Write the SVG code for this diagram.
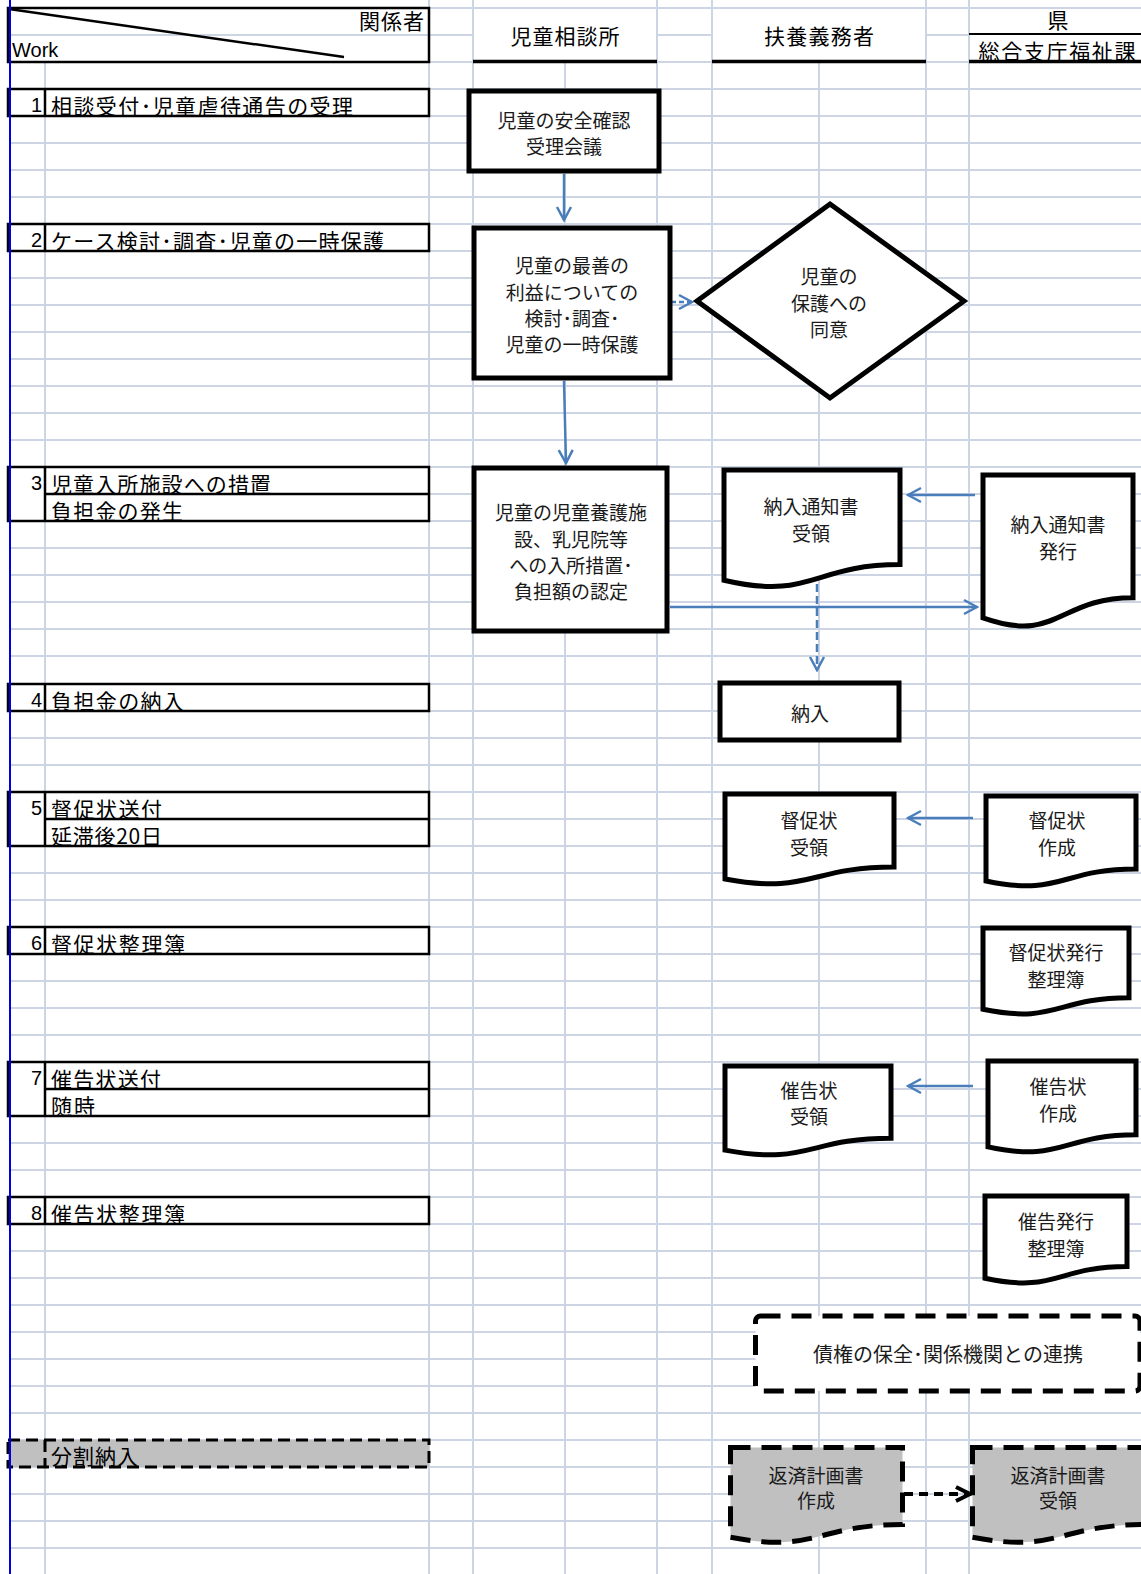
<svg xmlns="http://www.w3.org/2000/svg" width="1141" height="1574" viewBox="0 0 1141 1574">
<defs>
<style>
.grid{stroke:#cdd5e4;stroke-width:2;fill:none}
.lbl{fill:#fff;stroke:#000;stroke-width:2.5}
.ln{stroke:#000;stroke-width:2.5;fill:none}
.num{font-family:"Liberation Sans",Arial,sans-serif;font-size:20px;text-anchor:end;fill:#000}
.rt{font-family:"Noto Sans CJK JP","Noto Sans CJK SC",sans-serif;font-size:21px;dominant-baseline:central;fill:#000}
.hd{font-family:"Noto Sans CJK JP","Noto Sans CJK SC",sans-serif;font-size:21px;text-anchor:middle;dominant-baseline:central;fill:#000}
.node{fill:#fff;stroke:#000;stroke-width:5;stroke-linejoin:miter}
.nt{font-family:"Noto Sans CJK JP","Noto Sans CJK SC",sans-serif;font-size:19px;text-anchor:middle;dominant-baseline:central;fill:#1a1a1a}
.dsh{stroke:#000;stroke-width:5;stroke-dasharray:20 11}
.arr{stroke:#4a7ebb;stroke-width:2.5;fill:none;marker-end:url(#ah)}
</style>
<marker id="ah" markerUnits="userSpaceOnUse" markerWidth="16" markerHeight="18" viewBox="0 0 16 18" refX="14" refY="9" orient="auto"><path d="M1,2 L14,9 L1,16" fill="none" stroke="#4a7ebb" stroke-width="2.5"/></marker>
<marker id="ahk" markerUnits="userSpaceOnUse" markerWidth="20" markerHeight="20" viewBox="0 0 20 20" refX="17" refY="10" orient="auto"><path d="M2,3 L16,10 L2,17" fill="none" stroke="#000" stroke-width="4"/></marker>
</defs>
<rect x="0" y="0" width="1141" height="1574" fill="#fff"/>

<g id="grid">
<path class="grid" d="M9 8H1141 M9 35H473 M657 35H712 M926 35H969 M9 62H1141 M9 89H1141 M9 116H1141 M9 143H1141 M9 170H1141 M9 197H1141 M9 224H1141 M9 251H1141 M9 278H1141 M9 305H1141 M9 332H1141 M9 359H1141 M9 386H1141 M9 413H1141 M9 440H1141 M9 467H1141 M9 494H1141 M9 521H1141 M9 548H1141 M9 575H1141 M9 602H1141 M9 629H1141 M9 656H1141 M9 684H1141 M9 711H1141 M9 738H1141 M9 765H1141 M9 792H1141 M9 819H1141 M9 846H1141 M9 873H1141 M9 900H1141 M9 927H1141 M9 954H1141 M9 981H1141 M9 1008H1141 M9 1035H1141 M9 1062H1141 M9 1089H1141 M9 1116H1141 M9 1143H1141 M9 1170H1141 M9 1197H1141 M9 1224H1141 M9 1251H1141 M9 1278H1141 M9 1305H1141 M9 1332H1141 M9 1359H1141 M9 1386H1141 M9 1413H1141 M9 1440H1141 M9 1467H1141 M9 1494H1141 M9 1521H1141 M9 1548H1141"/>
<path class="grid" d="M45 62V1574 M429 0V1574 M473 0V1574 M565 62V1574 M657 0V1574 M712 0V1574 M819 62V1574 M926 0V1574 M969 0V1574"/>
</g>

<g id="header">
<rect x="8" y="8" width="421" height="54" fill="none" stroke="#000" stroke-width="2.5"/>
<line x1="9" y1="9" x2="344" y2="57" stroke="#000" stroke-width="2.5"/>
<text x="424" y="20" class="hd" style="text-anchor:end" textLength="65" lengthAdjust="spacing">関係者</text>
<text x="12" y="57" style="font-family:'Liberation Sans',Arial,sans-serif;font-size:20px">Work</text>
<text x="565" y="35" class="hd" textLength="109" lengthAdjust="spacing">児童相談所</text>
<line x1="473" y1="61.5" x2="657" y2="61.5" stroke="#000" stroke-width="3.5"/>
<text x="819" y="35" class="hd" textLength="110" lengthAdjust="spacing">扶養義務者</text>
<line x1="712" y1="61.5" x2="926" y2="61.5" stroke="#000" stroke-width="3.5"/>
<text x="1058" y="19" class="hd">県</text>
<line x1="969" y1="34" x2="1141" y2="34" stroke="#000" stroke-width="2"/>
<text x="1057" y="50" class="hd" textLength="157" lengthAdjust="spacing">総合支庁福祉課</text>
<line x1="969" y1="61.5" x2="1141" y2="61.5" stroke="#000" stroke-width="3.5"/>
</g>

<g id="work-rows">
<g id="row1"><rect class="lbl" x="8" y="89" width="421" height="27"/><line class="ln" x1="45" y1="89" x2="45" y2="116"/><text class="num" x="42" y="112">1</text><text class="rt" x="51" y="105" textLength="302" lengthAdjust="spacing">相談受付･児童虐待通告の受理</text></g>
<g id="row2"><rect class="lbl" x="8" y="224" width="421" height="27"/><line class="ln" x1="45" y1="224" x2="45" y2="251"/><text class="num" x="42" y="247">2</text><text class="rt" x="51" y="240" textLength="333" lengthAdjust="spacing">ケース検討･調査･児童の一時保護</text></g>
<g id="row3"><rect class="lbl" x="8" y="467" width="421" height="54"/><line class="ln" x1="45" y1="467" x2="45" y2="521"/><line class="ln" x1="45" y1="494" x2="429" y2="494"/><text class="num" x="42" y="490">3</text><text class="rt" x="51" y="483" textLength="220" lengthAdjust="spacing">児童入所施設への措置</text><text class="rt" x="51" y="510" textLength="132" lengthAdjust="spacing">負担金の発生</text></g>
<g id="row4"><rect class="lbl" x="8" y="684" width="421" height="27"/><line class="ln" x1="45" y1="684" x2="45" y2="711"/><text class="num" x="42" y="707">4</text><text class="rt" x="51" y="700" textLength="133" lengthAdjust="spacing">負担金の納入</text></g>
<g id="row5"><rect class="lbl" x="8" y="792" width="421" height="54"/><line class="ln" x1="45" y1="792" x2="45" y2="846"/><line class="ln" x1="45" y1="819" x2="429" y2="819"/><text class="num" x="42" y="815">5</text><text class="rt" x="51" y="808" textLength="111" lengthAdjust="spacing">督促状送付</text><text class="rt" x="51" y="835" textLength="111" lengthAdjust="spacing">延滞後20日</text></g>
<g id="row6"><rect class="lbl" x="8" y="927" width="421" height="27"/><line class="ln" x1="45" y1="927" x2="45" y2="954"/><text class="num" x="42" y="950">6</text><text class="rt" x="51" y="943" textLength="134" lengthAdjust="spacing">督促状整理簿</text></g>
<g id="row7"><rect class="lbl" x="8" y="1062" width="421" height="54"/><line class="ln" x1="45" y1="1062" x2="45" y2="1116"/><line class="ln" x1="45" y1="1089" x2="429" y2="1089"/><text class="num" x="42" y="1085">7</text><text class="rt" x="51" y="1078" textLength="110" lengthAdjust="spacing">催告状送付</text><text class="rt" x="51" y="1105" textLength="44" lengthAdjust="spacing">随時</text></g>
<g id="row8"><rect class="lbl" x="8" y="1197" width="421" height="27"/><line class="ln" x1="45" y1="1197" x2="45" y2="1224"/><text class="num" x="42" y="1220">8</text><text class="rt" x="51" y="1213" textLength="134" lengthAdjust="spacing">催告状整理簿</text></g>
<g id="row-bunkatsu"><rect x="8" y="1440" width="421" height="27" fill="#c0c0c0" stroke="#000" stroke-width="3" stroke-dasharray="12 6"/><line x1="45" y1="1440" x2="45" y2="1467" stroke="#000" stroke-width="3" stroke-dasharray="12 6"/><text class="rt" x="51" y="1455" textLength="87" lengthAdjust="spacing">分割納入</text></g>
</g>

<line x1="10" y1="0" x2="10" y2="1574" stroke="#0000e0" stroke-width="2"/>

<g id="connectors">
<line class="arr" x1="564" y1="174" x2="564" y2="220"/>
<line class="arr" x1="564" y1="381" x2="566" y2="463"/>
<line class="arr" x1="671" y1="302" x2="692" y2="302" stroke-dasharray="5 3"/>
<line class="arr" x1="975" y1="495" x2="908" y2="495"/>
<line class="arr" x1="670" y1="607" x2="977" y2="607"/>
<line class="arr" x1="817" y1="584" x2="817" y2="670" stroke-dasharray="8 4"/>
<line class="arr" x1="973" y1="818" x2="908" y2="818"/>
<line class="arr" x1="973" y1="1086" x2="908" y2="1086"/>
<line x1="904" y1="1494" x2="971" y2="1494" stroke="#000" stroke-width="4" stroke-dasharray="9 6" marker-end="url(#ahk)"/>
</g>

<g id="n-anzen"><rect class="node" x="469" y="91" width="190" height="80"/><text class="nt" x="564" y="119">児童の安全確認</text><text class="nt" x="564" y="145">受理会議</text></g>
<g id="n-kento"><rect class="node" x="474" y="228" width="196" height="150"/><text class="nt" x="572" y="264">児童の最善の</text><text class="nt" x="572" y="291">利益についての</text><text class="nt" x="572" y="317">検討･調査･</text><text class="nt" x="572" y="343">児童の一時保護</text></g>
<g id="n-doi"><polygon class="node" points="830,204 964,301 830,398 697,301"/><text class="nt" x="829" y="275">児童の</text><text class="nt" x="829" y="302">保護への</text><text class="nt" x="829" y="328">同意</text></g>
<g id="n-sochi"><rect class="node" x="474" y="468" width="193" height="163"/><text class="nt" x="571" y="511">児童の児童養護施</text><text class="nt" x="571" y="538">設、乳児院等</text><text class="nt" x="571" y="564">への入所措置･</text><text class="nt" x="571" y="590">負担額の認定</text></g>
<g id="n-tsuchi-juryo"><path class="node" d="M724,470 H900 V564.6 C812,564.6 812,600.7 724,580.2 Z"/><text class="nt" x="811" y="505">納入通知書</text><text class="nt" x="811" y="532">受領</text></g>
<g id="n-tsuchi-hakko"><path class="node" d="M983,475 H1133 V597.7 C1058,597.7 1058,644.4 983,617.9 Z"/><text class="nt" x="1058" y="523">納入通知書</text><text class="nt" x="1058" y="550">発行</text></g>
<g id="n-nonyu"><rect class="node" x="720" y="683" width="179" height="57"/><text class="nt" x="810" y="712">納入</text></g>
<g id="n-tokusoku-juryo"><path class="node" d="M725,794 H894 V867 C809.5,867 809.5,894.8 725,879 Z"/><text class="nt" x="809" y="819">督促状</text><text class="nt" x="809" y="846">受領</text></g>
<g id="n-tokusoku-sakusei"><path class="node" d="M986,796 H1136 V869 C1061,869 1061,896.8 986,881 Z"/><text class="nt" x="1057" y="819">督促状</text><text class="nt" x="1057" y="846">作成</text></g>
<g id="n-tokusoku-bo"><path class="node" d="M983,928 H1129 V997.8 C1056,997.8 1056,1024.4 983,1009.3 Z"/><text class="nt" x="1056" y="951">督促状発行</text><text class="nt" x="1056" y="978">整理簿</text></g>
<g id="n-saikoku-juryo"><path class="node" d="M725,1066 H891 V1138.2 C808,1138.2 808,1165.7 725,1150.1 Z"/><text class="nt" x="809" y="1089">催告状</text><text class="nt" x="809" y="1115">受領</text></g>
<g id="n-saikoku-sakusei"><path class="node" d="M988,1061 H1136 V1134.8 C1062,1134.8 1062,1162.9 988,1146.9 Z"/><text class="nt" x="1058" y="1085">催告状</text><text class="nt" x="1058" y="1112">作成</text></g>
<g id="n-saikoku-bo"><path class="node" d="M985,1196 H1127 V1266.6 C1056,1266.6 1056,1293.5 985,1278.2 Z"/><text class="nt" x="1056" y="1220">催告発行</text><text class="nt" x="1056" y="1247">整理簿</text></g>
<g id="n-hozen"><rect x="755.5" y="1316" width="384.5" height="75" rx="5" fill="#fff" class="dsh"/><text class="nt" x="948" y="1353" style="font-size:20px">債権の保全･関係機関との連携</text></g>
<g id="n-hensai-sakusei"><path d="M730.5,1447.5 H902.5 V1524.5 C816.5,1524.5 816.5,1553.8 730.5,1537.2 Z" fill="#c0c0c0" class="dsh"/><text class="nt" x="816" y="1474">返済計画書</text><text class="nt" x="816" y="1499">作成</text></g>
<g id="n-hensai-juryo"><path d="M972.5,1447.5 H1144.5 V1524.5 C1058.5,1524.5 1058.5,1553.8 972.5,1537.2 Z" fill="#c0c0c0" class="dsh"/><text class="nt" x="1058" y="1474">返済計画書</text><text class="nt" x="1058" y="1499">受領</text></g>
</svg>
